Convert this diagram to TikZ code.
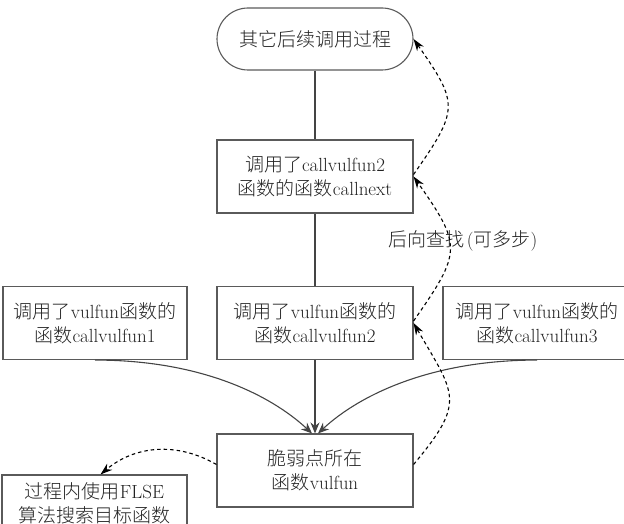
\documentclass[tikz,border=0pt]{standalone}
\usepackage{fontspec}
\newfontfamily\cjk{Noto Sans CJK SC Light}
\usetikzlibrary{arrows.meta}
\newcommand\zh[1]{{\cjk #1}}
\definecolor{boxgray}{HTML}{5A5A5A}
\definecolor{linegray}{HTML}{444444}
\definecolor{textgray}{HTML}{222222}
\begin{document}
\begin{tikzpicture}[x=1pt,y=1pt,
  box/.style={draw=boxgray,line width=1.1pt,align=center,inner sep=0pt,
    minimum height=73pt,text=textgray,font=\fontsize{19}{24}\selectfont},
  term/.style={box,rounded corners=31pt,minimum height=62pt,minimum width=196pt},
  lbl/.style={text=textgray,inner sep=0pt,font=\fontsize{19}{24}\selectfont},
  conn/.style={draw=linegray,line width=1.1pt},
  connarrow/.style={conn,-{Stealth[length=11pt,width=9pt]}},
  back/.style={draw=black,line width=1.1pt,dash pattern=on 3.5pt off 3pt,
    -{Stealth[length=12pt,width=8pt]}}]
\useasboundingbox (0,0) rectangle (624,-524);
\clip (0,0) rectangle (624,-524);

\node[term] (top) at (315,-39) {\zh{其它后续调用过程}};
\node[box,minimum width=196pt] (cn) at (315,-176.5)
  {\zh{调用了}callvulfun2\\\zh{函数的函数}callnext};
\node[box,minimum width=196pt] (c2) at (315,-323)
  {\zh{调用了}vulfun\zh{函数的}\\\zh{函数}callvulfun2};
\node[box,minimum width=184pt] (c1) at (95,-323)
  {\zh{调用了}vulfun\zh{函数的}\\\zh{函数}callvulfun1};
\node[box,minimum width=188pt] (c3) at (537,-323)
  {\zh{调用了}vulfun\zh{函数的}\\\zh{函数}callvulfun3};
\node[box,minimum width=196pt] (vf) at (315,-470.5)
  {\zh{脆弱点所在}\\\zh{函数}vulfun};
\node[box,minimum width=185pt,minimum height=56pt] (fl) at (94.5,-503)
  {\zh{过程内使用}FLSE\\\zh{算法搜索目标函数}};
\node[lbl] (lb) at (463,-241) {\zh{后向查找}\hspace{2pt}(\zh{可多步})};

\draw[conn] (top) -- (cn);
\draw[conn] (cn) -- (c2);
\draw[connarrow] (c2) -- (vf);
\draw[connarrow] (c1.south) .. controls +(105,0) and +(-42,39) .. ([xshift=-3pt]vf.north);
\draw[connarrow] (c3.south) .. controls +(-105,0) and +(42,39) .. ([xshift=3pt]vf.north);

\draw[back] ([yshift=6pt]vf.east) to[out=50,in=-60,looseness=1.5] (c2.east);
\draw[back] ([yshift=2pt]c2.east) to[out=55,in=-55,looseness=1.5] (cn.east);
\draw[back] ([yshift=2pt]cn.east) to[out=55,in=-55,looseness=1.5] (top.east);
\draw[back] ([yshift=6pt]vf.west) to[out=150,in=40] ([xshift=6pt]fl.north);
\end{tikzpicture}
\end{document}
